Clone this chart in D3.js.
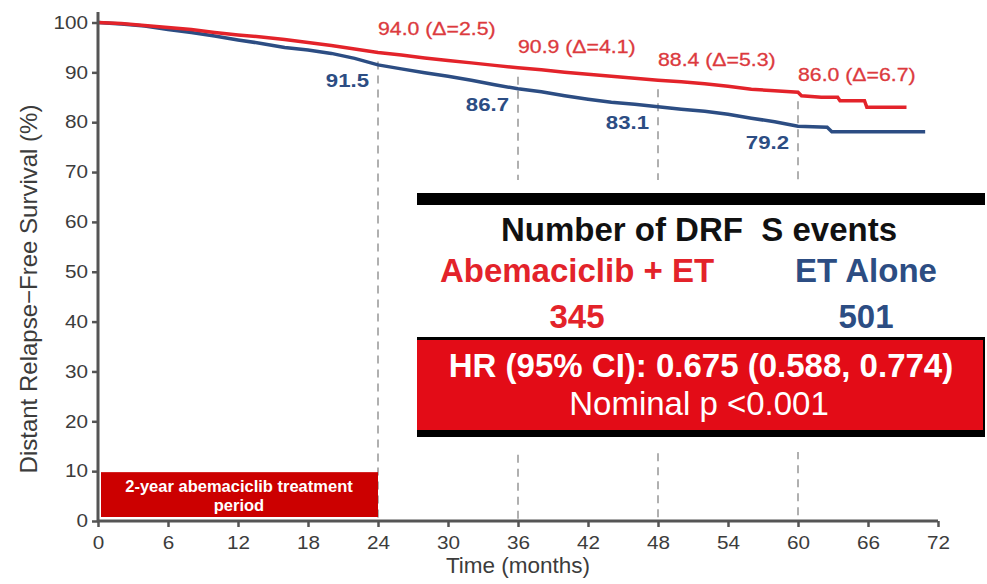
<!DOCTYPE html>
<html>
<head>
<meta charset="utf-8">
<script src="https://cdn.jsdelivr.net/npm/d3@7"></script>
<style>
  html, body { margin: 0; padding: 0; background: #fff; }
  svg { display: block; font-family: "Liberation Sans", Arial, sans-serif; }
</style>
</head>
<body>
<svg id="chart" width="987" height="584"></svg>
<script>
// ---------- data ----------
const xTicks = [0, 6, 12, 18, 24, 30, 36, 42, 48, 54, 60, 66, 72];
const yTicks = [0, 10, 20, 30, 40, 50, 60, 70, 80, 90, 100];

const abemaTime = [0, 2, 4, 6, 8, 10, 12, 14, 16, 18, 20, 22, 24, 26, 28, 30, 32, 34, 36, 38, 40, 42, 44, 46, 48, 50, 52, 54, 56, 58, 60, 60.3, 62, 63.4, 63.6, 65.7, 65.9, 69.3];
const abemaSurv = [100, 99.8, 99.4, 99.0, 98.6, 98.0, 97.5, 97.1, 96.6, 96.0, 95.4, 94.7, 94.0, 93.5, 92.9, 92.4, 91.9, 91.4, 90.9, 90.5, 90.0, 89.6, 89.2, 88.8, 88.4, 88.1, 87.7, 87.2, 86.6, 86.3, 86.0, 85.3, 85.0, 85.0, 84.3, 84.3, 83.0, 83.0];

const etTime = [0, 2, 4, 6, 8, 10, 12, 14, 16, 18, 20, 22, 24, 26, 28, 30, 32, 34, 36, 38, 40, 42, 44, 46, 48, 50, 52, 54, 56, 58, 60, 62.5, 62.9, 70.9];
const etSurv = [100, 99.7, 99.3, 98.6, 98.0, 97.3, 96.5, 95.8, 95.0, 94.5, 93.8, 92.8, 91.5, 90.7, 89.9, 89.2, 88.4, 87.5, 86.7, 86.1, 85.3, 84.6, 84.0, 83.6, 83.1, 82.6, 82.2, 81.6, 80.8, 80.1, 79.2, 79.0, 78.1, 78.1];

const landmarkTimes = [24, 36, 48, 60];
const abemaLabels = ["94.0 (\u0394=2.5)", "90.9 (\u0394=4.1)", "88.4 (\u0394=5.3)", "86.0 (\u0394=6.7)"];
const etLabels = ["91.5", "86.7", "83.1", "79.2"];

const tableTitle = "Number of DRF\u00a0 S events";
const armNames = ["Abemaciclib + ET", "ET Alone"];
const armEvents = ["345", "501"];
const hrText = "HR (95% CI): 0.675 (0.588, 0.774)";
const pText = "Nominal p <0.001";
const treatmentText = ["2-year abemaciclib treatment", "period"];
const xTitle = "Time (months)";
const yTitle = "Distant Relapse\u2212Free Survival (%)";

// ---------- setup ----------
const RED = "#e3232a", BLUE = "#2c4d83", AXIS = "#555", TXT = "#3c3c3c";
const svg = d3.select("#chart");
const x = d3.scaleLinear().domain([0, 72]).range([98, 938]);
const y = d3.scaleLinear().domain([0, 100]).range([521, 22.5]);

// text helper with horizontal stretch
function wideText(g, px, py, str, size, sx, anchor) {
  return g.append("text")
    .attr("transform", `translate(${px},${py}) scale(${sx},1)`)
    .attr("text-anchor", anchor || "start").attr("font-size", size).text(str);
}

// dashed landmark lines
const dashG = svg.append("g");
landmarkTimes.forEach((t) => {
  dashG.append("line")
    .attr("x1", x(t)).attr("x2", x(t))
    .attr("y1", y(abemaSurv[abemaTime.indexOf(t)]) + 9).attr("y2", y(0))
    .attr("stroke", "#b0b0b0").attr("stroke-width", 2)
    .attr("stroke-dasharray", "8,6");
});

// curves
const line = d3.line().curve(d3.curveLinear).x(d => x(d[0])).y(d => y(d[1]));
svg.append("path").datum(etTime.map((t, i) => [t, etSurv[i]]))
  .attr("d", line).attr("fill", "none").attr("stroke", BLUE).attr("stroke-width", 3.5);
svg.append("path").datum(abemaTime.map((t, i) => [t, abemaSurv[i]]))
  .attr("d", line).attr("fill", "none").attr("stroke", RED).attr("stroke-width", 3.5);

// landmark labels
const redOff = [17, 15, 14, 11];
landmarkTimes.forEach((t, i) => {
  wideText(svg, x(t), y(abemaSurv[abemaTime.indexOf(t)]) - redOff[i], abemaLabels[i], 18.5, 1.15)
    .attr("fill", "#dc3a3e").attr("stroke", "#dc3a3e").attr("stroke-width", 0.3);
  wideText(svg, x(t) - 9, y(etSurv[etTime.indexOf(t)]) + 22.5, etLabels[i], 18.5, 1.2, "end")
    .attr("fill", BLUE).attr("font-weight", "bold");
});

// treatment period box
svg.append("rect").attr("x", x(0) + 3).attr("y", y(10) + 1)
  .attr("width", x(24) - x(0) - 3).attr("height", y(0) - y(10) - 5)
  .attr("fill", "#cc0000");
treatmentText.forEach((s, i) => {
  svg.append("text").attr("x", (x(0) + x(24)) / 2 + 1).attr("y", 492 + i * 19)
    .attr("text-anchor", "middle").attr("fill", "#fff").attr("font-size", 16.5)
    .attr("font-weight", "bold").text(s);
});

// axes
const TS = 1.15;
const yAxis = svg.append("g").attr("transform", `translate(${x(0)},0)`)
  .call(d3.axisLeft(y).tickValues(yTicks).tickSize(6).tickPadding(4));
const xAxis = svg.append("g").attr("transform", `translate(0,${y(0)})`)
  .call(d3.axisBottom(x).tickValues(xTicks).tickSize(6).tickPadding(9).tickSizeOuter(0));
[yAxis, xAxis].forEach(g => {
  g.select(".domain").remove();
  g.selectAll(".tick line").attr("stroke", AXIS).attr("stroke-width", 2.5);
  g.selectAll(".tick text").attr("fill", TXT).attr("font-size", 18)
    .attr("font-family", "'Liberation Sans', Arial, sans-serif")
    .attr("x", function () { return (+d3.select(this).attr("x") || 0) / TS; })
    .attr("transform", `scale(${TS},1)`);
});
svg.append("line").attr("x1", x(0)).attr("x2", x(0)).attr("y1", 12).attr("y2", y(0) + 1)
  .attr("stroke", AXIS).attr("stroke-width", 3);
svg.append("line").attr("x1", x(0) - 1).attr("x2", x(72)).attr("y1", y(0)).attr("y2", y(0))
  .attr("stroke", AXIS).attr("stroke-width", 3);

// axis titles
svg.append("text").attr("x", x(36)).attr("y", 573).attr("text-anchor", "middle")
  .attr("fill", TXT).attr("font-size", 22.5).text(xTitle);
svg.append("text").attr("transform", "translate(37,289) rotate(-90)").attr("text-anchor", "middle")
  .attr("fill", TXT).attr("font-size", 24).text(yTitle);

// ---------- summary table ----------
const tb = svg.append("g");
tb.append("rect").attr("x", 415).attr("y", 180).attr("width", 572).attr("height", 272).attr("fill", "#fff");
tb.append("rect").attr("x", 417).attr("y", 193).attr("width", 568).attr("height", 12).attr("fill", "#000");
tb.append("text").attr("x", 699).attr("y", 241).attr("text-anchor", "middle")
  .attr("font-size", 33).attr("font-weight", "bold").attr("fill", "#111").text(tableTitle);
const armX = [577, 866], armCol = ["#e3232a", BLUE];
armNames.forEach((n, i) => {
  tb.append("text").attr("x", armX[i]).attr("y", 282).attr("text-anchor", "middle")
    .attr("font-size", 33).attr("font-weight", "bold").attr("fill", armCol[i]).text(n);
  tb.append("text").attr("x", armX[i]).attr("y", 328).attr("text-anchor", "middle")
    .attr("font-size", 33).attr("font-weight", "bold").attr("fill", armCol[i]).text(armEvents[i]);
});
tb.append("rect").attr("x", 417).attr("y", 337).attr("width", 568).attr("height", 100).attr("fill", "#000");
tb.append("rect").attr("x", 417).attr("y", 340).attr("width", 566).attr("height", 90).attr("fill", "#e30c17");
tb.append("text").attr("x", 701).attr("y", 377).attr("text-anchor", "middle")
  .attr("font-size", 33).attr("font-weight", "bold").attr("fill", "#fff").text(hrText);
tb.append("text").attr("x", 699).attr("y", 415).attr("text-anchor", "middle")
  .attr("font-size", 33).attr("fill", "#fff").text(pText);
</script>
</body>
</html>
